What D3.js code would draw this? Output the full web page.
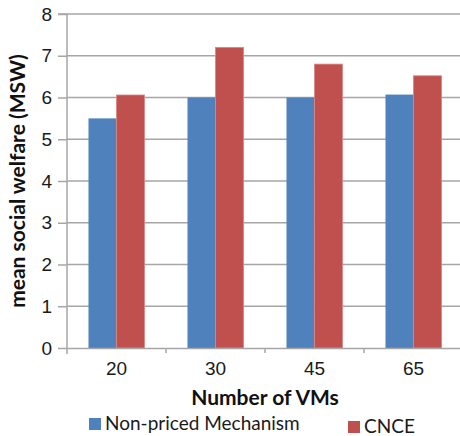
<!DOCTYPE html>
<html>
<head>
<meta charset="utf-8">
<script src="https://cdn.jsdelivr.net/npm/d3@7"></script>
<style>
  body { margin: 0; background: #fff; }
  svg { display: block; font-family: Lato, "Open Sans", sans-serif; }
</style>
</head>
<body>
<div id="chart"></div>
<script>
// Number of VMs vs mean social welfare
const categories = ['20', '30', '45', '65'];
const seriesNames = ['Non-priced Mechanism', 'CNCE'];
const nonPriced = [5.5, 6.0, 6.0, 6.07];
const cnce = [6.06, 7.2, 6.8, 6.52];
const yTicks = [0, 1, 2, 3, 4, 5, 6, 7, 8];
const colors = ['#4f81bd', '#c0504d'];

const W = 460, H = 436;
const margin = { top: 14, right: -3, bottom: 88, left: 67 };
const width = W - margin.left - margin.right;
const height = H - margin.top - margin.bottom;

const svg = d3.select('#chart').append('svg')
    .attr('width', W)
    .attr('height', H);

const g = svg.append('g')
    .attr('transform', `translate(${margin.left},${margin.top})`);

const x0 = d3.scaleBand()
    .domain(categories)
    .range([0, width])
    .paddingInner(0.434)
    .paddingOuter(0.217);

const x1 = d3.scaleBand()
    .domain(seriesNames)
    .range([0, x0.bandwidth()]);

const y = d3.scaleLinear()
    .domain([0, 8])
    .range([height, 0]);

// Gridlines
g.selectAll('.grid')
    .data(yTicks.filter(d => d > 0))
    .enter()
    .append('line')
    .attr('x1', 0)
    .attr('x2', width)
    .attr('y1', d => y(d))
    .attr('y2', d => y(d))
    .attr('stroke', '#a6a6a6')
    .attr('stroke-width', 1.5);

// Bars
const rows = categories.map((c, i) => ({ cat: c, values: [nonPriced[i], cnce[i]] }));

const groups = g.selectAll('.grp')
    .data(rows)
    .enter()
    .append('g')
    .attr('transform', d => `translate(${x0(d.cat)},0)`);

groups.selectAll('rect')
    .data(d => d.values.map((v, j) => ({ key: seriesNames[j], v, j })))
    .enter()
    .append('rect')
    .attr('x', d => x1(d.key))
    .attr('y', d => y(d.v))
    .attr('width', x1.bandwidth())
    .attr('height', d => height - y(d.v))
    .attr('fill', d => colors[d.j])
    .attr('stroke', d => d.j === 1 ? '#d98583' : 'none')
    .attr('stroke-width', 0.8);

// Y axis
const yAxis = g.append('g')
    .call(d3.axisLeft(y).tickValues(yTicks).tickSize(9).tickPadding(6).tickFormat(d3.format('d')));
yAxis.select('.domain').attr('stroke', '#a6a6a6').attr('stroke-width', 1.5)
    .attr('d', `M-9,0H0V${height + 6}`);
yAxis.selectAll('.tick line').attr('stroke', '#a6a6a6').attr('stroke-width', 1.5);
yAxis.selectAll('text').style('font-size', '19px').attr('fill', '#1a1a1a');

// X axis
const xAxis = g.append('g')
    .attr('transform', `translate(0,${height})`)
    .call(d3.axisBottom(x0).tickSize(0).tickPadding(14));
xAxis.select('.domain').attr('stroke', '#a6a6a6').attr('stroke-width', 1.5);
xAxis.selectAll('text').style('font-size', '19px').attr('fill', '#1a1a1a');

// Category separator ticks
g.selectAll('.sep')
    .data(categories.slice(1))
    .enter()
    .append('line')
    .attr('x1', d => x0(d) - x0.step() * x0.paddingInner() / 2)
    .attr('x2', d => x0(d) - x0.step() * x0.paddingInner() / 2)
    .attr('y1', height)
    .attr('y2', height + 5)
    .attr('stroke', '#a6a6a6')
    .attr('stroke-width', 1.5);

// Axis titles
svg.append('text')
    .attr('x', 265)
    .attr('y', 405)
    .attr('text-anchor', 'middle')
    .style('font-size', '21px')
    .style('font-weight', 'bold')
    .attr('fill', '#111')
    .text('Number of VMs');

svg.append('text')
    .attr('transform', 'rotate(-90)')
    .attr('x', -181)
    .attr('y', 25)
    .attr('text-anchor', 'middle')
    .style('font-size', '21px')
    .style('font-weight', 'bold')
    .attr('fill', '#111')
    .text('mean social welfare (MSW)');

// Legend
const legendItems = [
    { name: seriesNames[0], color: colors[0], x: 89, y: 418 },
    { name: seriesNames[1], color: colors[1], x: 348, y: 421 }
];
const legend = svg.selectAll('.legend')
    .data(legendItems)
    .enter()
    .append('g')
    .attr('transform', d => `translate(${d.x},${d.y})`);

legend.append('rect')
    .attr('width', 12)
    .attr('height', 12)
    .attr('fill', d => d.color);

legend.append('text')
    .attr('x', 16)
    .attr('y', 12)
    .style('font-size', '19px')
    .attr('fill', '#1a1a1a')
    .text(d => d.name);
</script>
</body>
</html>
